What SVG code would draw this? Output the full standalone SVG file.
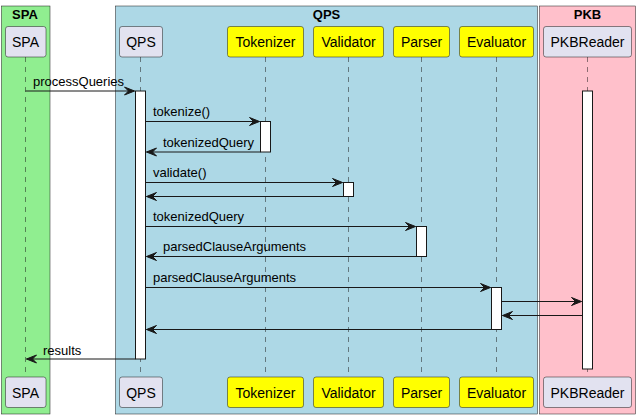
<svg xmlns="http://www.w3.org/2000/svg" width="640" height="418" viewBox="0 0 640 418">
<style>
.box{stroke:#181818;stroke-width:0.5}
.title{font-family:"Liberation Sans",Arial,sans-serif;font-size:13px;font-weight:bold;fill:#000;text-anchor:middle}
.head{stroke:#181818;stroke-width:0.5}
.def{fill:#E2E2F0}
.yel{fill:#FFFF00}
.pt{font-family:"Liberation Sans",Arial,sans-serif;font-size:14px;fill:#000;text-anchor:middle}
.life{stroke:#181818;stroke-width:0.5;stroke-dasharray:5,5;fill:none}
.act{fill:#FFFFFF;stroke:#181818;stroke-width:1}
.msg{stroke:#181818;stroke-width:1;fill:none}
.lbl{font-family:"Liberation Sans",Arial,sans-serif;font-size:13px;fill:#000}
.ah{fill:#181818;stroke:#181818;stroke-width:1}
</style>
<rect width="640" height="418" fill="#FFFFFF"/>
<g id="boxes">
<rect class="box" x="1.5" y="6" width="48.5" height="408" fill="#90EE90"/>
<text class="title" x="25" y="19">SPA</text>
<rect class="box" x="115.5" y="6" width="422" height="408" fill="#ADD8E6"/>
<text class="title" x="326.5" y="19">QPS</text>
<rect class="box" x="539.5" y="6" width="96" height="408" fill="#FFC0CB"/>
<text class="title" x="587.5" y="19">PKB</text>
</g>
<g id="lifelines">
<line class="life" x1="25.5" y1="57" x2="25.5" y2="377"/>
<line class="life" x1="140.5" y1="57" x2="140.5" y2="377"/>
<line class="life" x1="265.5" y1="57" x2="265.5" y2="377"/>
<line class="life" x1="348.5" y1="57" x2="348.5" y2="377"/>
<line class="life" x1="421.5" y1="57" x2="421.5" y2="377"/>
<line class="life" x1="496.5" y1="57" x2="496.5" y2="377"/>
<line class="life" x1="587.5" y1="57" x2="587.5" y2="377"/>
</g>
<g id="SPA">
<rect class="head def" x="5.5" y="26.5" width="40.5" height="30.5" rx="2.5"/>
<text class="pt" x="25.5" y="47">SPA</text>
<rect class="head def" x="5.5" y="377" width="40.5" height="30.5" rx="2.5"/>
<text class="pt" x="25.5" y="397.5">SPA</text>
</g>
<g id="QPS">
<rect class="head def" x="119.5" y="26.5" width="43" height="30.5" rx="2.5"/>
<text class="pt" x="141" y="47">QPS</text>
<rect class="head def" x="119.5" y="377" width="43" height="30.5" rx="2.5"/>
<text class="pt" x="141" y="397.5">QPS</text>
<rect class="act" x="135.5" y="91" width="10" height="268"/>
</g>
<g id="Tokenizer">
<rect class="head yel" x="227.5" y="26.5" width="76" height="30.5" rx="2.5"/>
<text class="pt" x="265.5" y="47">Tokenizer</text>
<rect class="head yel" x="227.5" y="377" width="76" height="30.5" rx="2.5"/>
<text class="pt" x="265.5" y="397.5">Tokenizer</text>
<rect class="act" x="260.5" y="121.5" width="10" height="30.5"/>
</g>
<g id="Validator">
<rect class="head yel" x="313.5" y="26.5" width="70" height="30.5" rx="2.5"/>
<text class="pt" x="348.5" y="47">Validator</text>
<rect class="head yel" x="313.5" y="377" width="70" height="30.5" rx="2.5"/>
<text class="pt" x="348.5" y="397.5">Validator</text>
<rect class="act" x="343.5" y="182.5" width="10" height="14"/>
</g>
<g id="Parser">
<rect class="head yel" x="393.5" y="26.5" width="56" height="30.5" rx="2.5"/>
<text class="pt" x="421.5" y="47">Parser</text>
<rect class="head yel" x="393.5" y="377" width="56" height="30.5" rx="2.5"/>
<text class="pt" x="421.5" y="397.5">Parser</text>
<rect class="act" x="416.5" y="226.5" width="10" height="30"/>
</g>
<g id="Evaluator">
<rect class="head yel" x="459.5" y="26.5" width="74" height="30.5" rx="2.5"/>
<text class="pt" x="496.5" y="47">Evaluator</text>
<rect class="head yel" x="459.5" y="377" width="74" height="30.5" rx="2.5"/>
<text class="pt" x="496.5" y="397.5">Evaluator</text>
<rect class="act" x="491.5" y="287.5" width="10" height="42"/>
</g>
<g id="PKBReader">
<rect class="head def" x="543.5" y="26.5" width="88" height="30.5" rx="2.5"/>
<text class="pt" x="587.5" y="47">PKBReader</text>
<rect class="head def" x="543.5" y="377" width="88" height="30.5" rx="2.5"/>
<text class="pt" x="587.5" y="397.5">PKBReader</text>
<rect class="act" x="582.5" y="91" width="10" height="278"/>
</g>
<g id="connectors">
<line class="msg" x1="25.5" y1="91" x2="134.5" y2="91"/>
<polygon class="ah" points="124.5,87 134.5,91 124.5,95 128.5,91"/>
<text class="lbl" x="33" y="85.5">processQueries</text>

<line class="msg" x1="145.5" y1="121.5" x2="259.5" y2="121.5"/>
<polygon class="ah" points="249.5,117.5 259.5,121.5 249.5,125.5 253.5,121.5"/>
<text class="lbl" x="153" y="116">tokenize()</text>

<line class="msg" x1="260.5" y1="152" x2="146.5" y2="152"/>
<polygon class="ah" points="156.5,148 146.5,152 156.5,156 152.5,152"/>
<text class="lbl" x="163" y="146.5">tokenizedQuery</text>

<line class="msg" x1="145.5" y1="182.5" x2="342.5" y2="182.5"/>
<polygon class="ah" points="332.5,178.5 342.5,182.5 332.5,186.5 336.5,182.5"/>
<text class="lbl" x="153" y="177">validate()</text>

<line class="msg" x1="343.5" y1="196.5" x2="146.5" y2="196.5"/>
<polygon class="ah" points="156.5,192.5 146.5,196.5 156.5,200.5 152.5,196.5"/>

<line class="msg" x1="145.5" y1="226.5" x2="415.5" y2="226.5"/>
<polygon class="ah" points="405.5,222.5 415.5,226.5 405.5,230.5 409.5,226.5"/>
<text class="lbl" x="153" y="221">tokenizedQuery</text>

<line class="msg" x1="416.5" y1="256.5" x2="146.5" y2="256.5"/>
<polygon class="ah" points="156.5,252.5 146.5,256.5 156.5,260.5 152.5,256.5"/>
<text class="lbl" x="163" y="251">parsedClauseArguments</text>

<line class="msg" x1="145.5" y1="287.5" x2="490.5" y2="287.5"/>
<polygon class="ah" points="480.5,283.5 490.5,287.5 480.5,291.5 484.5,287.5"/>
<text class="lbl" x="153" y="282">parsedClauseArguments</text>

<line class="msg" x1="501.5" y1="301.5" x2="581.5" y2="301.5"/>
<polygon class="ah" points="571.5,297.5 581.5,301.5 571.5,305.5 575.5,301.5"/>

<line class="msg" x1="582.5" y1="315.5" x2="502.5" y2="315.5"/>
<polygon class="ah" points="512.5,311.5 502.5,315.5 512.5,319.5 508.5,315.5"/>

<line class="msg" x1="491.5" y1="329.5" x2="146.5" y2="329.5"/>
<polygon class="ah" points="156.5,325.5 146.5,329.5 156.5,333.5 152.5,329.5"/>

<line class="msg" x1="135.5" y1="359" x2="26.5" y2="359"/>
<polygon class="ah" points="36.5,355 26.5,359 36.5,363 32.5,359"/>
<text class="lbl" x="43" y="355">results</text>
</g>
</svg>
